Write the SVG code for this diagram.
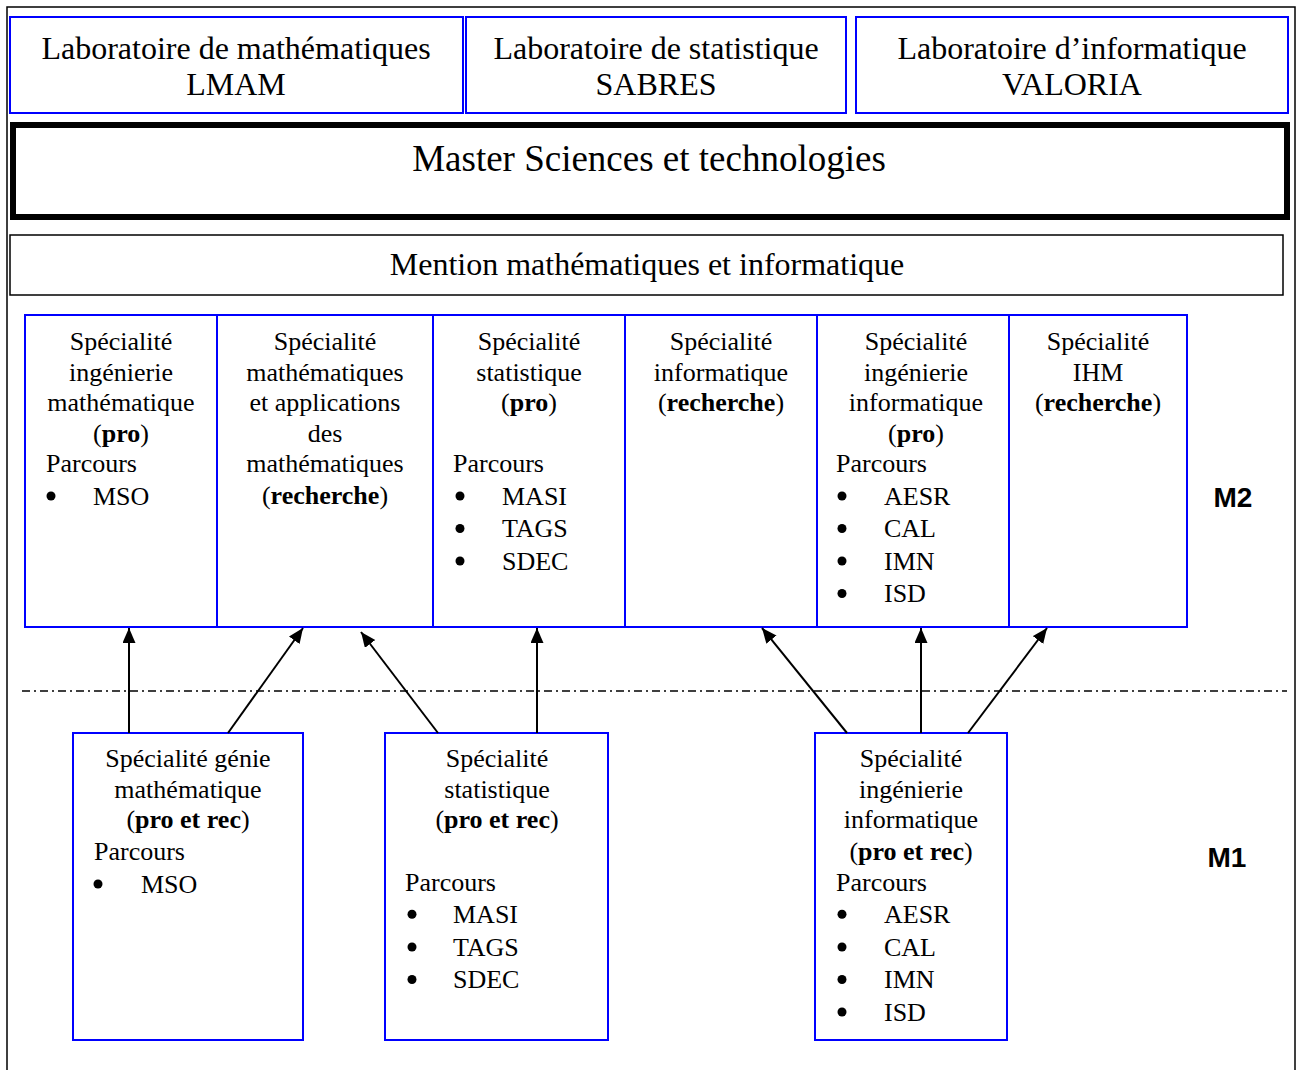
<svg xmlns="http://www.w3.org/2000/svg" width="1296" height="1070" viewBox="0 0 1296 1070">
<style>
.t{font-family:"Liberation Serif","Times New Roman",serif;font-size:26px;fill:#000}
.c{text-anchor:middle}
.lab{font-size:32px}
.big{font-size:37px}
.b{font-weight:bold}
.bu{fill:#000}
.lvl{font-family:"Liberation Sans",Arial,sans-serif;font-size:28px;font-weight:bold;text-anchor:middle;fill:#000}
.blue{fill:#fff;stroke:#0000ff;stroke-width:2}
.conn line{stroke:#000;stroke-width:2;marker-end:url(#ah)}
</style>
<defs>
<marker id="ah" markerUnits="userSpaceOnUse" markerWidth="16" markerHeight="14" refX="15" refY="6.5" orient="auto">
<path d="M0,0 L15,6.5 L0,13 Z" fill="#000"/>
</marker>
</defs>
<rect x="0" y="0" width="1296" height="1070" fill="#fff"/>
<rect x="7" y="7" width="1288" height="1080" fill="none" stroke="#000" stroke-width="1.5"/>

<g id="lab-lmam">
<rect class="blue" x="10" y="17" width="453" height="96" stroke-width="1.6"/>
<text class="t lab c" x="236" y="59">Laboratoire de mathématiques</text>
<text class="t lab c" x="236" y="95">LMAM</text>
</g>
<g id="lab-sabres">
<rect class="blue" x="466" y="17" width="380" height="96" stroke-width="1.6"/>
<text class="t lab c" x="656" y="59">Laboratoire de statistique</text>
<text class="t lab c" x="656" y="95">SABRES</text>
</g>
<g id="lab-valoria">
<rect class="blue" x="856" y="17" width="432" height="96" stroke-width="1.6"/>
<text class="t lab c" x="1072" y="59">Laboratoire d’informatique</text>
<text class="t lab c" x="1072" y="95">VALORIA</text>
</g>

<g id="master">
<rect x="13" y="125" width="1274" height="92" fill="#fff" stroke="#000" stroke-width="6"/>
<text class="t big c" x="649" y="171">Master Sciences et technologies</text>
</g>

<g id="mention">
<rect x="10" y="235" width="1273" height="60" fill="#fff" stroke="#000" stroke-width="1.5"/>
<text class="t lab c" x="647" y="275">Mention mathématiques et informatique</text>
</g>

<g id="m2-ing-math">
<rect class="blue" x="25" y="315" width="192" height="312"/>
<text class="t c" x="121" y="350">Spécialité</text>
<text class="t c" x="121" y="380.6">ingénierie</text>
<text class="t c" x="121" y="411.2">mathématique</text>
<text class="t c" x="121" y="441.8">(<tspan class="b">pro</tspan>)</text>
<text class="t" x="46" y="472.4">Parcours</text>
<circle class="bu" cx="51" cy="496" r="4.5"/>
<text class="t" x="93" y="504.5">MSO</text>
</g>
<g id="m2-math-app">
<rect class="blue" x="217" y="315" width="216" height="312"/>
<text class="t c" x="325" y="350">Spécialité</text>
<text class="t c" x="325" y="380.6">mathématiques</text>
<text class="t c" x="325" y="411.2">et applications</text>
<text class="t c" x="325" y="441.8">des</text>
<text class="t c" x="325" y="472.4">mathématiques</text>
<text class="t c" x="325" y="504">(<tspan class="b">recherche</tspan>)</text>
</g>
<g id="m2-stat">
<rect class="blue" x="433" y="315" width="192" height="312"/>
<text class="t c" x="529" y="350">Spécialité</text>
<text class="t c" x="529" y="380.6">statistique</text>
<text class="t c" x="529" y="411.2">(<tspan class="b">pro</tspan>)</text>
<text class="t" x="453" y="472.4">Parcours</text>
<circle class="bu" cx="460" cy="496" r="4.5"/>
<text class="t" x="502" y="504.5">MASI</text>
<circle class="bu" cx="460" cy="528.5" r="4.5"/>
<text class="t" x="502" y="537">TAGS</text>
<circle class="bu" cx="460" cy="561" r="4.5"/>
<text class="t" x="502" y="569.5">SDEC</text>
</g>
<g id="m2-info">
<rect class="blue" x="625" y="315" width="192" height="312"/>
<text class="t c" x="721" y="350">Spécialité</text>
<text class="t c" x="721" y="380.6">informatique</text>
<text class="t c" x="721" y="411.2">(<tspan class="b">recherche</tspan>)</text>
</g>
<g id="m2-ing-info">
<rect class="blue" x="817" y="315" width="192" height="312"/>
<text class="t c" x="916" y="350">Spécialité</text>
<text class="t c" x="916" y="380.6">ingénierie</text>
<text class="t c" x="916" y="411.2">informatique</text>
<text class="t c" x="916" y="441.8">(<tspan class="b">pro</tspan>)</text>
<text class="t" x="836" y="472.4">Parcours</text>
<circle class="bu" cx="842" cy="496" r="4.5"/>
<text class="t" x="884" y="504.5">AESR</text>
<circle class="bu" cx="842" cy="528.5" r="4.5"/>
<text class="t" x="884" y="537">CAL</text>
<circle class="bu" cx="842" cy="561" r="4.5"/>
<text class="t" x="884" y="569.5">IMN</text>
<circle class="bu" cx="842" cy="593.5" r="4.5"/>
<text class="t" x="884" y="602">ISD</text>
</g>
<g id="m2-ihm">
<rect class="blue" x="1009" y="315" width="178" height="312"/>
<text class="t c" x="1098" y="350">Spécialité</text>
<text class="t c" x="1098" y="380.6">IHM</text>
<text class="t c" x="1098" y="411.2">(<tspan class="b">recherche</tspan>)</text>
</g>

<text id="label-m2" class="lvl" x="1233" y="507">M2</text>
<text id="label-m1" class="lvl" x="1227" y="867">M1</text>

<line id="separator" x1="22" y1="691" x2="1287" y2="691" stroke="#000" stroke-width="1.5" stroke-dasharray="8,4,2,4"/>

<g id="m1-genie-math">
<rect class="blue" x="73" y="733" width="230" height="307"/>
<text class="t c" x="188" y="767">Spécialité génie</text>
<text class="t c" x="188" y="797.6">mathématique</text>
<text class="t c" x="188" y="828.2">(<tspan class="b">pro et rec</tspan>)</text>
<text class="t" x="94" y="859.6">Parcours</text>
<circle class="bu" cx="98" cy="884" r="4.5"/>
<text class="t" x="141" y="892.5">MSO</text>
</g>
<g id="m1-stat">
<rect class="blue" x="385" y="733" width="223" height="307"/>
<text class="t c" x="497" y="767">Spécialité</text>
<text class="t c" x="497" y="797.6">statistique</text>
<text class="t c" x="497" y="828.2">(<tspan class="b">pro et rec</tspan>)</text>
<text class="t" x="405" y="890.5">Parcours</text>
<circle class="bu" cx="412" cy="914.2" r="4.5"/>
<text class="t" x="453" y="922.7">MASI</text>
<circle class="bu" cx="412" cy="947" r="4.5"/>
<text class="t" x="453" y="955.5">TAGS</text>
<circle class="bu" cx="412" cy="979.5" r="4.5"/>
<text class="t" x="453" y="988">SDEC</text>
</g>
<g id="m1-ing-info">
<rect class="blue" x="815" y="733" width="192" height="307"/>
<text class="t c" x="911" y="767">Spécialité</text>
<text class="t c" x="911" y="797.6">ingénierie</text>
<text class="t c" x="911" y="828.2">informatique</text>
<text class="t c" x="911" y="859.6">(<tspan class="b">pro et rec</tspan>)</text>
<text class="t" x="836" y="890.5">Parcours</text>
<circle class="bu" cx="842" cy="914.2" r="4.5"/>
<text class="t" x="884" y="922.7">AESR</text>
<circle class="bu" cx="842" cy="947" r="4.5"/>
<text class="t" x="884" y="955.5">CAL</text>
<circle class="bu" cx="842" cy="979.5" r="4.5"/>
<text class="t" x="884" y="988">IMN</text>
<circle class="bu" cx="842" cy="1012" r="4.5"/>
<text class="t" x="884" y="1020.5">ISD</text>
</g>

<g id="connectors" class="conn">
<line x1="129" y1="733" x2="129" y2="628"/>
<line x1="228" y1="733" x2="303" y2="628"/>
<line x1="438" y1="733" x2="361" y2="632"/>
<line x1="537" y1="733" x2="537" y2="628"/>
<line x1="847" y1="733" x2="762" y2="628"/>
<line x1="921" y1="733" x2="921" y2="628"/>
<line x1="968" y1="733" x2="1047" y2="628"/>
</g>
</svg>
